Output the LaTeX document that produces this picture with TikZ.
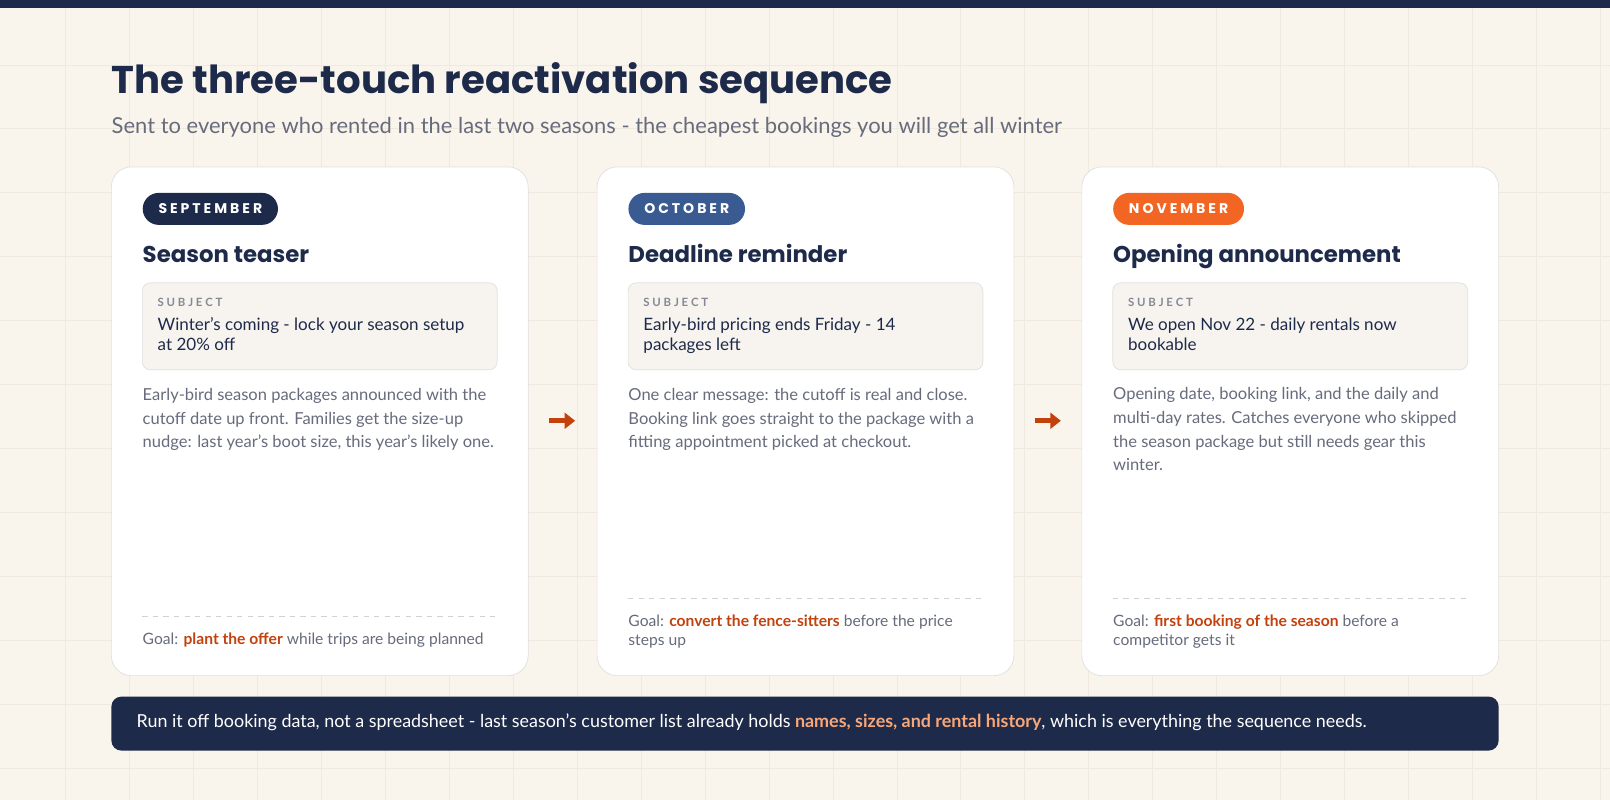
\documentclass[tikz,border=0pt]{standalone}
\usepackage{fontspec}
\setmainfont{Lato}
\newfontfamily\headfont{Poppins}
\usetikzlibrary{positioning,arrows.meta}
\definecolor{navy}{HTML}{1E2A4A}
\definecolor{octblue}{HTML}{3A5A92}
\definecolor{novorange}{HTML}{F26522}
\definecolor{rust}{HTML}{C2410C}
\definecolor{muted}{HTML}{676B7C}
\definecolor{paper}{HTML}{F9F4EC}
\definecolor{gridline}{HTML}{F0E9DE}
\definecolor{subjbg}{HTML}{F7F4EF}
\definecolor{peach}{HTML}{F9A779}
\begin{document}
\begin{tikzpicture}[
    x = 0.02cm, y = -0.02cm,
    card/.style = {draw=black!12, fill=white, rounded corners=20*0.02cm},
    pill/.style = {fill=#1, rounded corners=16*0.02cm, text=white, inner xsep=9pt,
        minimum height=32*0.02cm, anchor=west, font=\headfont\bfseries\fontsize{8}{9}\selectfont},
    heading/.style = {anchor=base west, inner sep=0, text=navy, font=\headfont\bfseries\fontsize{13}{15}\selectfont},
    subjbox/.style = {draw=black!12, fill=subjbg, rounded corners=8*0.02cm},
    small/.style = {anchor=base west, inner sep=0, text=muted!80, font=\bfseries\fontsize{6.5}{8}\selectfont},
    subj/.style = {anchor=base west, inner sep=0, align=left, text=navy, font=\fontsize{9.7}{11.3}\selectfont},
    desc/.style = {anchor=base west, inner sep=0, align=left, text=muted, font=\fontsize{9.4}{13.5}\selectfont},
    goal/.style = {anchor=base west, inner sep=0, align=left, text=muted, font=\fontsize{8.9}{10.8}\selectfont},
    nextstep/.style = {-{Triangle[length=6pt,width=9pt]}, line width=3pt, rust}
    ]
    % background
    \fill[paper] (0,0) rectangle (1610,800);
    \foreach \gx in {65,129,...,1610} \draw[gridline, line width=0.5pt] (\gx,8) -- (\gx,800);
    \foreach \gy in {65,129,...,800} \draw[gridline, line width=0.5pt] (0,\gy) -- (1610,\gy);
    \fill[navy] (0,0) rectangle (1610,8);

    % title
    \node[heading, font=\headfont\bfseries\fontsize{22}{26}\selectfont] (title) at (111,94) {The three-touch reactivation sequence};
    \node[anchor=base west, inner sep=0, text=muted, font=\fontsize{12.5}{14}\selectfont] (sub) at (111,134)
        {Sent to everyone who rented in the last two seasons - the cheapest bookings you will get all winter};

    % cards
    \foreach \cx in {111, 597, 1082} {
        \draw[card] (\cx,167) rectangle ++(417,509);
        \draw[subjbox] (\cx+31,283) rectangle ++(355,87);
    }
    \draw[black!18, dashed] (142,617) -- (497,617);
    \draw[black!18, dashed] (628,599) -- (983,599);
    \draw[black!18, dashed] (1113,599) -- (1468,599);

    % September (multi-line nodes sit on their last baseline)
    \node[pill=navy] (sepPill) at (142,209) {S E P T E M B E R};
    \node[heading] (sepHead) at (142,263) {Season teaser};
    \node[small] (sepLbl) at (157,307) {S U B J E C T};
    \node[subj] (sepSubj) at (157,351) {Winter's coming - lock your season setup\\at 20\% off};
    \node[desc] (sepDesc) at (142,448) {Early-bird season packages announced with the\\cutoff date up front. Families get the size-up\\nudge: last year's boot size, this year's likely one.};
    \node[goal] (sepGoal) at (142,645) {Goal: {\color{rust}\bfseries plant the offer} while trips are being planned};

    % October
    \node[pill=octblue] (octPill) at (628,209) {O C T O B E R};
    \node[heading] (octHead) at (628,263) {Deadline reminder};
    \node[small] (octLbl) at (643,307) {S U B J E C T};
    \node[subj] (octSubj) at (643,351) {Early-bird pricing ends Friday - 14\\packages left};
    \node[desc] (octDesc) at (628,448) {One clear message: the cutoff is real and close.\\Booking link goes straight to the package with a\\fitting appointment picked at checkout.};
    \node[goal] (octGoal) at (628,646) {Goal: {\color{rust}\bfseries convert the fence-sitters} before the price\\steps up};

    % November
    \node[pill=novorange] (novPill) at (1113,209) {N O V E M B E R};
    \node[heading] (novHead) at (1113,263) {Opening announcement};
    \node[small] (novLbl) at (1128,307) {S U B J E C T};
    \node[subj] (novSubj) at (1128,351) {We open Nov 22 - daily rentals now\\bookable};
    \node[desc] (novDesc) at (1113,471) {Opening date, booking link, and the daily and\\multi-day rates. Catches everyone who skipped\\the season package but still needs gear this\\winter.};
    \node[goal] (novGoal) at (1113,646) {Goal: {\color{rust}\bfseries first booking of the season} before a\\competitor gets it};

    % arrows between cards
    \coordinate (a1) at (549,421); \coordinate (b1) at (575,421);
    \coordinate (a2) at (1035,421); \coordinate (b2) at (1061,421);
    \draw[nextstep] (a1) -- (b1);
    \draw[nextstep] (a2) -- (b2);

    % bottom note
    \fill[navy, rounded corners=10*0.02cm] (111,697) rectangle (1499,751);
    \node[anchor=base west, inner sep=0, text=white, font=\fontsize{10.2}{12}\selectfont] (note) at (136,728)
        {Run it off booking data, not a spreadsheet - last season's customer list already holds {\color{peach}\bfseries names, sizes, and rental history}, which is everything the sequence needs.};
\end{tikzpicture}
\end{document}
